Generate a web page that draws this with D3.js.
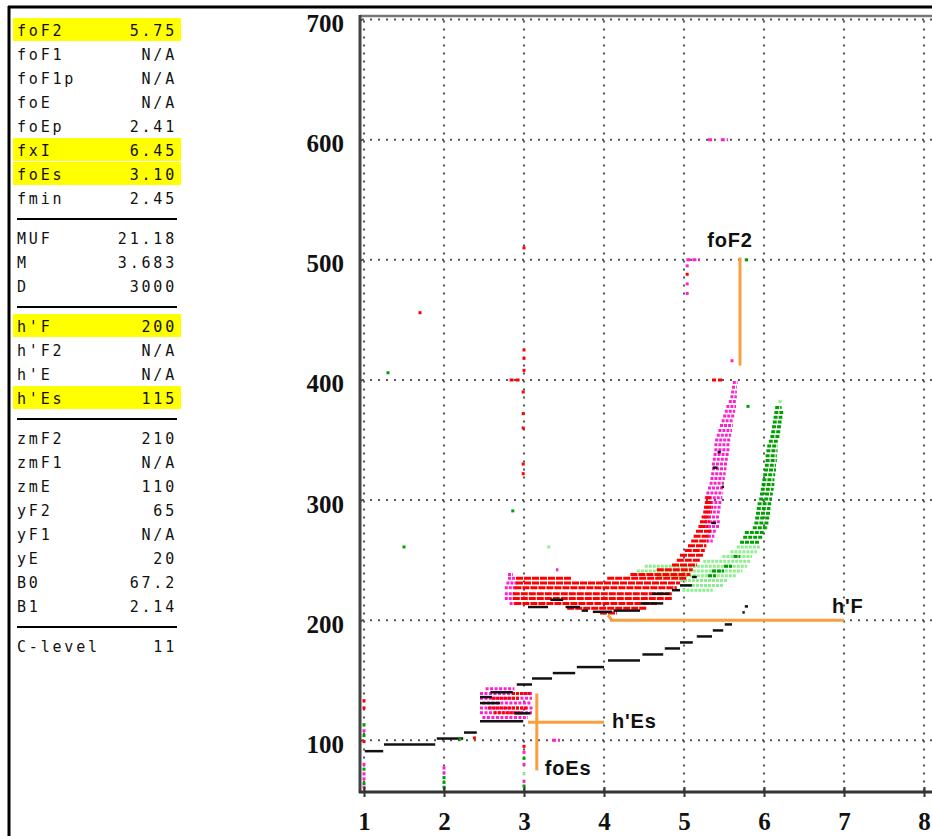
<!DOCTYPE html>
<html>
<head>
<meta charset="utf-8">
<script src="https://cdn.jsdelivr.net/npm/d3@7"></script>
<style>
  body { margin: 0; background: #fff; }
</style>
</head>
<body>
<div id="visContainer"></div>
<script>
// scaled parameter table on the left
const paramLabels = ["foF2","foF1","foF1p","foE","foEp","fxI","foEs","fmin",
  "MUF","M","D",
  "h'F","h'F2","h'E","h'Es",
  "zmF2","zmF1","zmE","yF2","yF1","yE","B0","B1",
  "C-level"];
const paramValues = ["5.75","N/A","N/A","N/A","2.41","6.45","3.10","2.45",
  "21.18","3.683","3000",
  "200","N/A","N/A","115",
  "210","N/A","110","65","N/A","20","67.2","2.14",
  "11"];
const paramHighlight = ["foF2","fxI","foEs","h'F","h'Es"];
const groupBreaks = [8, 11, 15, 23]; // a rule goes above these rows

// axes
const freqTicks = [1, 2, 3, 4, 5, 6, 7, 8];
const heightTicks = [100, 200, 300, 400, 500, 600, 700];

// lower stepped trace (black), rows: [height km, f start MHz, f end MHz]
const stepTrace = [
  [91, 1.01, 1.24], [96.5, 1.25, 1.89], [101.5, 1.91, 2.24], [106.5, 2.25, 2.41],
  [146.5, 2.91, 3.1], [151.5, 3.1, 3.35], [156, 3.36, 3.64], [161, 3.66, 4.0],
  [166.5, 4.05, 4.45], [171.5, 4.48, 4.74], [176.5, 4.76, 4.95], [181.5, 4.95, 5.11],
  [186.5, 5.16, 5.35], [191.5, 5.36, 5.49], [196.5, 5.51, 5.6], [206.5, 5.73, 5.76],
  [211.5, 5.76, 5.8]
];

// sporadic E echoes
const esMagentaRows = [[143, 2.52, 2.88], [139, 2.45, 3.1], [135, 2.45, 3.1], [131, 2.48, 3.1],
  [127, 2.45, 3.12], [123, 2.45, 3.1], [119, 2.48, 3.05]];
const esRedRows = [[139, 2.85, 3.08], [135, 2.6, 2.95], [127, 2.55, 3.05], [123, 2.62, 2.98]];
const esBlackRows = [[140, 2.58, 2.86], [136, 2.45, 2.6], [131, 2.45, 2.7], [122.5, 2.88, 3.08], [116, 2.45, 2.99]];

// F layer, ordinary trace
const fRedRows = [
  [206, 3.95, 4.16], [210, 3.54, 4.54], [214, 2.88, 4.66], [218, 2.86, 4.85],
  [222, 2.86, 4.86], [227, 2.88, 4.91], [231, 2.9, 4.95], [235, 2.9, 3.6],
  [235, 4.04, 5.04], [238, 4.33, 5.08], [242, 4.66, 5.11], [246, 4.85, 5.16],
  [250, 4.91, 5.2], [254, 4.95, 5.24], [258, 5.01, 5.26], [262, 5.05, 5.28],
  [266, 5.09, 5.3], [270, 5.12, 5.31], [274, 5.15, 5.34], [278, 5.18, 5.3],
  [282, 5.2, 5.32], [286, 5.22, 5.33], [290, 5.24, 5.35], [294, 5.25, 5.36],
  [298, 5.26, 5.36], [302, 5.27, 5.34]
];
const fMagentaRows = [
  [214, 2.82, 2.9], [218, 2.76, 2.88], [222, 2.76, 2.88], [227, 2.76, 2.9],
  [231, 2.78, 2.92], [235, 2.8, 2.9], [238, 2.8, 2.86], [242, 3.4, 3.43],
  [266, 5.28, 5.36], [270, 5.3, 5.38], [274, 5.31, 5.4], [278, 5.25, 5.44],
  [282, 5.26, 5.45], [286, 5.25, 5.45], [290, 5.26, 5.46], [294, 5.27, 5.47],
  [298, 5.28, 5.48], [302, 5.26, 5.48], [306, 5.28, 5.49], [310, 5.3, 5.5],
  [314, 5.32, 5.5], [318, 5.33, 5.51], [322, 5.34, 5.52], [326, 5.35, 5.53],
  [330, 5.35, 5.54], [334, 5.36, 5.55], [338, 5.37, 5.56], [342, 5.38, 5.57],
  [346, 5.38, 5.58], [350, 5.39, 5.59], [354, 5.41, 5.59], [358, 5.43, 5.6],
  [362, 5.45, 5.61], [366, 5.47, 5.62], [370, 5.49, 5.63], [374, 5.51, 5.64],
  [378, 5.53, 5.65], [382, 5.56, 5.65], [386, 5.58, 5.66], [390, 5.59, 5.66],
  [394, 5.6, 5.66], [398, 5.61, 5.67]
];
const fBlackRows = [
  [211, 3.05, 3.3], [217, 3.33, 3.49], [211, 3.52, 3.7], [208, 3.72, 3.8],
  [207, 3.86, 4.1], [208, 4.12, 4.45], [214, 4.46, 4.74], [222, 4.6, 4.82],
  [225, 4.85, 4.95], [229, 4.95, 5.1], [236, 5.1, 5.16], [281, 5.34, 5.4],
  [311, 5.47, 5.5], [327, 5.36, 5.42], [340, 5.42, 5.46]
];

// F layer, extraordinary trace
const xLightRows = [
  [225, 4.98, 5.36], [229, 4.95, 5.49], [233, 4.95, 5.54], [237, 4.66, 5.66],
  [241, 4.41, 5.73], [245, 4.51, 5.79], [249, 5.24, 5.83], [253, 5.48, 5.85],
  [257, 5.58, 5.91], [261, 5.66, 5.95]
];
const xDarkRows = [
  [237, 5.3, 5.4], [241, 5.35, 5.5], [245, 5.5, 5.6], [253, 5.62, 5.7],
  [265, 5.7, 5.95], [269, 5.74, 5.98], [273, 5.76, 6.01], [277, 5.86, 6.05],
  [281, 5.88, 6.06], [285, 5.89, 6.07], [289, 5.9, 6.08], [293, 5.91, 6.08],
  [297, 5.92, 6.09], [301, 5.94, 6.1], [305, 5.95, 6.11], [309, 5.96, 6.12],
  [313, 5.97, 6.13], [317, 5.98, 6.13], [321, 5.99, 6.14], [325, 6.0, 6.15],
  [329, 6.01, 6.15], [333, 6.02, 6.16], [337, 6.02, 6.16], [341, 6.03, 6.17],
  [345, 6.04, 6.17], [349, 6.06, 6.18], [353, 6.08, 6.2], [357, 6.09, 6.21],
  [361, 6.1, 6.22], [365, 6.11, 6.22], [369, 6.12, 6.23], [373, 6.13, 6.24],
  [377, 6.14, 6.22]
];

// stray echoes: [f MHz, height km, colour]
const strayPoints = [
  [1.0, 133, "red"], [1.0, 127, "red"], [1.0, 113, "green"], [1.0, 108, "magenta"],
  [1.0, 104, "green"], [1.0, 99, "red"], [1.0, 80, "magenta"], [1.0, 76, "green"],
  [1.0, 72, "magenta"], [1.0, 68, "magenta"], [1.0, 64, "green"], [1.0, 61, "magenta"],
  [2.0, 77, "magenta"], [2.0, 73, "magenta"], [2.0, 69, "green"], [2.0, 65, "green"], [2.0, 61, "green"],
  [2.2, 101, "green"], [2.38, 102, "red"],
  [3.0, 95, "red"], [3.0, 90, "magenta"], [3.0, 85, "green"], [3.0, 80, "magenta"],
  [3.0, 72, "light"], [3.0, 66, "magenta"], [3.0, 62, "green"],
  [3.0, 510, "red"], [3.0, 425, "red"], [3.0, 418, "red"], [3.0, 408, "red"],
  [2.99, 390, "red"], [2.99, 372, "red"], [2.99, 360, "red"], [2.99, 330, "red"], [2.99, 322, "red"],
  [1.7, 456, "red"], [1.3, 406, "green"], [1.5, 261, "green"], [2.86, 291, "green"],
  [3.31, 261, "light"], [5.04, 495, "magenta"], [5.04, 488, "red"], [5.04, 480, "magenta"],
  [5.04, 472, "magenta"], [5.6, 416, "magenta"], [5.8, 378, "green"], [6.2, 382, "light"]
];
// stray short dashes: [height km, f start, f end, colour]
const strayDashes = [
  [500, 5.03, 5.2, "magenta"], [500, 5.76, 5.8, "green"], [600, 5.3, 5.38, "magenta"],
  [600, 5.46, 5.55, "magenta"], [400, 2.82, 2.95, "red"], [400, 5.35, 5.48, "red"],
  [100, 3.35, 3.45, "magenta"]
];

// scaled parameter markers
const foF2Mark = {f: 5.7, h0: 412, h1: 502};
const hFMark = {h: 200, f0: 4.1, f1: 7.0};
const hEsMark = {h: 115, f0: 3.05, f1: 4.0};
const foEsMark = {f: 3.16, h0: 75, h1: 139};

const colours = {red: "#ff0000", magenta: "#ff22cc", green: "#00a000", light: "#8cf08c", black: "#111"};
const orange = "#f8a040";

const width = 932;
const height = 836;

const svg = d3.select("#visContainer")
  .append("svg")
  .attr("width", width)
  .attr("height", height)
  .style("display", "block");

// outer frame
svg.append("line").attr("x1", 8).attr("x2", width).attr("y1", 7).attr("y2", 7)
  .attr("stroke", "#000").attr("stroke-width", 3);
svg.append("line").attr("x1", 9).attr("x2", 9).attr("y1", 6).attr("y2", height)
  .attr("stroke", "#000").attr("stroke-width", 3);

// ---- parameter panel ----
const rowY = (i) => 31 + i * 24 + groupBreaks.filter((b) => b <= i).length * 16;
const panel = svg.append("g")
  .style("font-family", "'DejaVu Sans Mono', monospace")
  .style("font-size", "15px")
  .style("letter-spacing", "2.8px");

panel.selectAll("rect")
  .data(paramLabels.filter((d) => paramHighlight.includes(d)))
  .join("rect")
  .attr("x", 13)
  .attr("y", (d) => rowY(paramLabels.indexOf(d)) - 13)
  .attr("width", 168)
  .attr("height", 23)
  .attr("fill", "#ffff00");

panel.selectAll("line")
  .data(groupBreaks)
  .join("line")
  .attr("x1", 17).attr("x2", 177)
  .attr("y1", (d) => rowY(d) - 20).attr("y2", (d) => rowY(d) - 20)
  .attr("stroke", "#000").attr("stroke-width", 2);

panel.selectAll("text.lab")
  .data(paramLabels)
  .join("text")
  .attr("class", "lab")
  .attr("x", 17)
  .attr("y", (d, i) => rowY(i) + 5)
  .attr("fill", "#111")
  .text((d) => d);

panel.selectAll("text.val")
  .data(paramValues)
  .join("text")
  .attr("class", "val")
  .attr("x", 177)
  .attr("y", (d, i) => rowY(i) + 5)
  .attr("text-anchor", "end")
  .attr("fill", "#111")
  .text((d) => d);

// ---- ionogram ----
const x = d3.scaleLinear().domain([0.95, 8.1]).range([360, 932]);
const y = d3.scaleLinear().domain([57, 703]).range([792, 16]);

// dotted grid
svg.append("g").selectAll("line")
  .data(freqTicks)
  .join("line")
  .attr("x1", (d) => x(d)).attr("x2", (d) => x(d))
  .attr("y1", y(700) + 1).attr("y2", y.range()[0])
  .attr("stroke", "#555").attr("stroke-width", 2)
  .attr("stroke-dasharray", "2,6");
svg.append("g").selectAll("line")
  .data(heightTicks)
  .join("line")
  .attr("x1", x.range()[0] + 2).attr("x2", width)
  .attr("y1", (d) => y(d)).attr("y2", (d) => y(d))
  .attr("stroke", "#555").attr("stroke-width", 2)
  .attr("stroke-dasharray", "2,6");

const traces = svg.append("g");
function drawRows(rows, colour, thick, dash) {
  traces.append("g").selectAll("line")
    .data(rows)
    .join("line")
    .attr("x1", (d) => x(d[1])).attr("x2", (d) => x(d[2]))
    .attr("y1", (d) => y(d[0])).attr("y2", (d) => y(d[0]))
    .attr("stroke", (d) => d[3] ? colours[d[3]] : colour)
    .attr("stroke-width", thick)
    .attr("stroke-dasharray", dash);
}

drawRows(xLightRows, colours.light, 3, "3,1");
drawRows(xDarkRows, colours.green, 3, "4,1");
drawRows(esMagentaRows, colours.magenta, 3, "3,1.5");
drawRows(esRedRows, colours.red, 3, "3,1");
drawRows(fMagentaRows, colours.magenta, 3, "3,1");
drawRows(fRedRows, colours.red, 3, "7,1");
drawRows(strayDashes, null, 3, "4,2");
drawRows(esBlackRows, colours.black, 2.5, null);
drawRows(fBlackRows, colours.black, 2.5, null);
drawRows(stepTrace, colours.black, 2.5, null);

traces.append("g").selectAll("rect")
  .data(strayPoints)
  .join("rect")
  .attr("x", (d) => x(d[0]) - 1.5)
  .attr("y", (d) => y(d[1]) - 1.5)
  .attr("width", 3)
  .attr("height", 3)
  .attr("fill", (d) => colours[d[2]]);

// axes
svg.append("line").attr("x1", x.range()[0]).attr("x2", width)
  .attr("y1", 16).attr("y2", 16)
  .attr("stroke", "#777").attr("stroke-width", 2.5);

const yAxis = svg.append("g")
  .attr("transform", `translate(${x.range()[0]}, 0)`)
  .call(d3.axisLeft(y).tickValues(heightTicks).tickSize(5).tickPadding(11));
yAxis.select(".domain").remove();
yAxis.selectAll(".tick line").attr("x2", 2).attr("stroke", "#333").attr("stroke-width", 2);
yAxis.selectAll(".tick text")
  .attr("dy", "0.48em")
  .style("font-family", "'Liberation Serif', serif")
  .style("font-weight", "bold")
  .style("font-size", "25px")
  .attr("fill", "#111");

const xAxis = svg.append("g")
  .attr("transform", `translate(0, ${y.range()[0]})`)
  .call(d3.axisBottom(x).tickValues(freqTicks).tickSize(5).tickPadding(15));
xAxis.select(".domain").remove();
xAxis.selectAll(".tick line").attr("y1", -5).attr("stroke", "#333").attr("stroke-width", 2);
xAxis.selectAll(".tick text")
  .style("font-family", "'Liberation Serif', serif")
  .style("font-weight", "bold")
  .style("font-size", "25px")
  .attr("fill", "#111");

svg.append("line").attr("x1", x.range()[0]).attr("x2", x.range()[0])
  .attr("y1", 15).attr("y2", y.range()[0] + 1)
  .attr("stroke", "#444").attr("stroke-width", 3);
svg.append("line").attr("x1", x.range()[0] - 1).attr("x2", width)
  .attr("y1", y.range()[0]).attr("y2", y.range()[0])
  .attr("stroke", "#333").attr("stroke-width", 3);

// scaled parameter markers
const marks = svg.append("g").attr("stroke", orange).attr("stroke-width", 3).attr("fill", "none");
marks.append("line")
  .attr("x1", x(foF2Mark.f)).attr("x2", x(foF2Mark.f))
  .attr("y1", y(foF2Mark.h0)).attr("y2", y(foF2Mark.h1));
marks.append("polyline")
  .attr("points", [[x(hFMark.f0) - 4, y(hFMark.h) - 5], [x(hFMark.f0), y(hFMark.h)], [x(hFMark.f1), y(hFMark.h)]].join(" "));
marks.append("line")
  .attr("x1", x(hEsMark.f0)).attr("x2", x(hEsMark.f1))
  .attr("y1", y(hEsMark.h)).attr("y2", y(hEsMark.h));
marks.append("line")
  .attr("x1", x(foEsMark.f)).attr("x2", x(foEsMark.f))
  .attr("y1", y(foEsMark.h0)).attr("y2", y(foEsMark.h1));

const markLabels = svg.append("g")
  .style("font-family", "'Liberation Sans', Arial, sans-serif")
  .style("font-weight", "bold")
  .style("font-size", "20px")
  .style("letter-spacing", "0.8px")
  .attr("fill", "#111");
markLabels.append("text")
  .attr("x", x(foF2Mark.f) - 10).attr("y", y(foF2Mark.h1) - 10)
  .attr("text-anchor", "middle").text("foF2");
markLabels.append("text")
  .attr("x", x(hFMark.f1) - 12).attr("y", y(hFMark.h) - 7)
  .text("h'F");
markLabels.append("text")
  .attr("x", x(hEsMark.f1) + 8).attr("y", y(hEsMark.h) + 6)
  .text("h'Es");
markLabels.append("text")
  .attr("x", x(foEsMark.f) + 8).attr("y", y(foEsMark.h0) + 5)
  .text("foEs");
</script>
</body>
</html>
